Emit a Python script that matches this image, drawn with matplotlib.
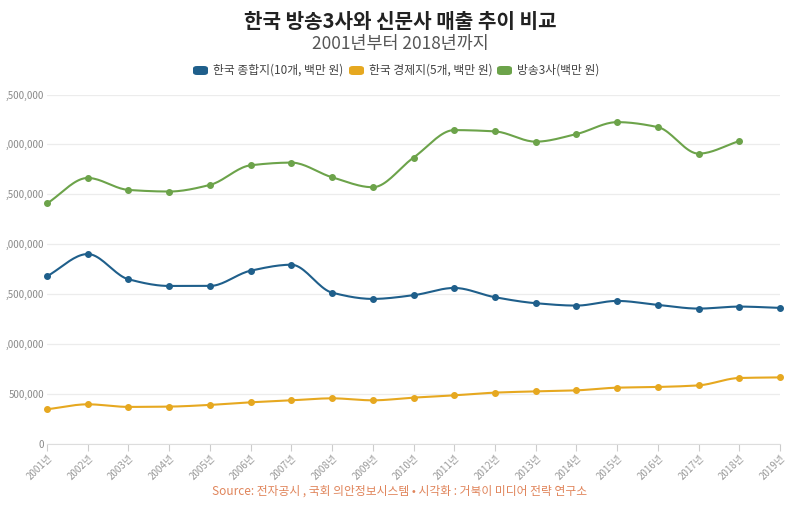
import numpy as np
import matplotlib
matplotlib.use("Agg")
import matplotlib.pyplot as plt
from matplotlib.patches import FancyBboxPatch

plt.rcParams['font.family'] = ['Noto Sans CJK KR', 'DejaVu Sans']

years = list(range(2001, 2020))
year_labels = [f"{y}년" for y in years]

# 한국 종합지 (10개, 백만 원)
general = [1677000, 1900000, 1647000, 1580000, 1580000, 1733000, 1793000,
           1513000, 1450000, 1487000, 1560000, 1467000, 1407000, 1383000,
           1430000, 1390000, 1353000, 1373000, 1360000]
# 한국 경제지 (5개, 백만 원)
economic = [343000, 393000, 367000, 370000, 387000, 413000, 433000,
            453000, 433000, 460000, 483000, 510000, 523000, 533000,
            560000, 567000, 583000, 657000, 663000]
# 방송3사 (백만 원), 2001-2018
broadcast = [2407000, 2663000, 2543000, 2527000, 2593000, 2790000, 2817000,
             2670000, 2570000, 2867000, 3143000, 3130000, 3027000, 3103000,
             3223000, 3173000, 2907000, 3033000]

series_names = ["한국 종합지(10개, 백만 원)", "한국 경제지(5개, 백만 원)", "방송3사(백만 원)"]
colors = ["#1f5f8b", "#e6a820", "#6ca34a"]
y_ticks = [0, 500000, 1000000, 1500000, 2000000, 2500000, 3000000, 3500000]
# the reference crops the leading digit of the millions labels
y_tick_labels = ["0", "500,000", ",000,000", ",500,000", ",000,000", ",500,000",
                 ",000,000", ",500,000"]


def monotone_curve(x, y, n=20):
    # monotone cubic (like d3 curveMonotoneX), only for drawing the line
    x = np.asarray(x, float)
    y = np.asarray(y, float)
    h = np.diff(x)
    d = np.diff(y) / h
    m = np.zeros_like(y)
    for i in range(1, len(y) - 1):
        if d[i - 1] * d[i] <= 0:
            m[i] = 0
        else:
            m[i] = 2 / (1 / d[i - 1] + 1 / d[i])
    m[0] = d[0]
    m[-1] = d[-1]
    xs, ys = [], []
    for i in range(len(x) - 1):
        t = np.linspace(0, 1, n, endpoint=False)
        h00 = 2 * t**3 - 3 * t**2 + 1
        h10 = t**3 - 2 * t**2 + t
        h01 = -2 * t**3 + 3 * t**2
        h11 = t**3 - t**2
        xs.append(x[i] + t * h[i])
        ys.append(h00 * y[i] + h10 * h[i] * m[i] + h01 * y[i + 1] + h11 * h[i] * m[i + 1])
    xs.append([x[-1]])
    ys.append([y[-1]])
    return np.concatenate(xs), np.concatenate(ys)


fig = plt.figure(figsize=(8, 5.07), dpi=100)
ax = fig.add_axes([47 / 800, (507 - 443.5) / 507, (780 - 47) / 800, (443.5 - 94.5) / 507])

for vals, c in zip([general, economic, broadcast], colors):
    xs = years[:len(vals)]
    cx, cy = monotone_curve(xs, vals)
    ax.plot(cx, cy, color=c, lw=1.5, zorder=3, clip_on=False)
    ax.plot(xs, vals, 'o', color=c, ms=4, zorder=4, clip_on=False)

ax.set_xlim(2001, 2019)
ax.set_ylim(0, 3500000)
ax.set_yticks(y_ticks)
ax.set_yticklabels(y_tick_labels)
ax.set_xticks(years)
ax.set_xticklabels(year_labels, rotation=45, ha='right', va='top', rotation_mode='anchor')

ax.grid(axis='y', color='#ececec', lw=0.9)
ax.set_axisbelow(True)
for s in ['top', 'right', 'left']:
    ax.spines[s].set_visible(False)
ax.spines['bottom'].set_color('#dddddd')
ax.tick_params(axis='y', length=0, pad=2, labelsize=7, labelcolor='#8a8a8a')
ax.tick_params(axis='x', length=5, color='#cccccc', pad=2, labelsize=7, labelcolor='#999999')

fig.text(0.5, 1 - 21 / 507, "한국 방송3사와 신문사 매출 추이 비교", ha='center', va='center',
         fontsize=14.5, fontweight='bold', color='#222222')
fig.text(0.5, 1 - 44 / 507, "2001년부터 2018년까지", ha='center', va='center',
         fontsize=12.5, color='#555555')

legend_x = [193, 349, 497]
for lx, name, c in zip(legend_x, series_names, colors):
    fig.patches.append(FancyBboxPatch((lx / 800, 1 - 75 / 507), 15 / 800, 9 / 507,
                                      boxstyle="round,pad=0,rounding_size=0.005",
                                      transform=fig.transFigure, facecolor=c,
                                      edgecolor='none', figure=fig))
    fig.text((lx + 20) / 800, 1 - 70 / 507, name, ha='left', va='center',
             fontsize=8.5, color='#444444')

fig.text(0.5, 1 - 491 / 507, "Source: 전자공시 , 국회 의안정보시스템 • 시각화 : 거북이 미디어 전략 연구소",
         ha='center', va='center', fontsize=8.5, color='#e0845a')

fig.savefig("out.png", dpi=100)
